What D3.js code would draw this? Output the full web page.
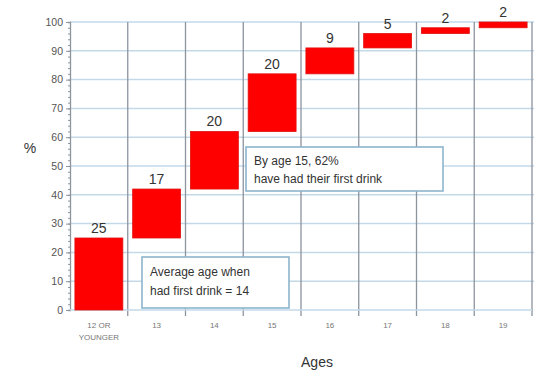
<!DOCTYPE html>
<html><head><meta charset="utf-8">
<script src="https://cdn.jsdelivr.net/npm/d3@7"></script>
<style>body{margin:0;background:#fff}svg{display:block}text{font-family:"Liberation Sans",Arial,sans-serif}</style>
</head><body>
<svg id="c" width="536" height="371"></svg>
<script>
const categories = ["12 OR YOUNGER","13","14","15","16","17","18","19"];
const values = [25,17,20,20,9,5,2,2];
const yTicks = [0,10,20,30,40,50,60,70,80,90,100];
const notes = [
  {lines:["By age 15, 62%","have had their first drink"]},
  {lines:["Average age when","had first drink = 14"]}
];

const svg = d3.select("#c");
const L=70, R=532, T=22, B=310;
const x = d3.scaleBand().domain(categories).range([L,R]).paddingInner(0.17).paddingOuter(0.085);
const xg = d3.scaleBand().domain(categories).range([L,R]);
const y = d3.scaleLinear().domain([0,100]).range([B,T]);

// cumulative
let acc=0;
const data = categories.map((c,i)=>{const s=acc; acc+=values[i]; return {c, v:values[i], s, e:acc};});

// horizontal grid
svg.append("g").selectAll("line").data(yTicks.slice(1)).join("line")
  .attr("x1",L).attr("x2",R+2).attr("y1",d=>y(d)).attr("y2",d=>y(d))
  .attr("stroke","#c3d9e8").attr("stroke-width",1.5);
// vertical grid
svg.append("g").selectAll("line").data(categories).join("line")
  .attr("x1",d=>xg(d)+xg.bandwidth()).attr("x2",d=>xg(d)+xg.bandwidth())
  .attr("y1",T).attr("y2",B+6)
  .attr("stroke","#8c949e").attr("stroke-width",1.3);

// y axis with minor ticks
const ya = svg.append("g").attr("transform",`translate(${L},0)`);
ya.call(d3.axisLeft(y).tickValues(d3.range(0,101,2)).tickSize(2).tickFormat(""));
ya.call(g=>g.select(".domain").attr("stroke","#8c949e").attr("stroke-width",1.3));
ya.selectAll(".tick line").attr("stroke","#8c949e");
const yb = svg.append("g").attr("transform",`translate(${L},0)`)
  .call(d3.axisLeft(y).tickValues(yTicks).tickSize(4).tickPadding(3));
yb.select(".domain").remove();
yb.selectAll(".tick line").attr("stroke","#8c949e");
yb.selectAll("text").attr("fill","#555").attr("font-size",10.5).style("font-family","Liberation Sans, Arial, sans-serif");

// x axis baseline
svg.append("line").attr("x1",L).attr("x2",R).attr("y1",B).attr("y2",B).attr("stroke","#c3d9e8").attr("stroke-width",1.5);

// x labels
const xl = svg.append("g").selectAll("text").data(categories).join("text")
  .attr("x",d=>xg(d)+xg.bandwidth()/2).attr("y",328)
  .attr("text-anchor","middle").attr("fill","#777").attr("font-size",8);
xl.each(function(d){
  const parts = d==="12 OR YOUNGER" ? ["12 OR","YOUNGER"] : [d];
  d3.select(this).selectAll("tspan").data(parts).join("tspan")
    .attr("x",xg(d)+xg.bandwidth()/2).attr("dy",(p,i)=>i?12:0).text(p=>p);
});

// bars
svg.append("g").selectAll("rect").data(data).join("rect")
  .attr("x",d=>x(d.c)).attr("width",x.bandwidth())
  .attr("y",d=>y(d.e)).attr("height",d=>y(d.s)-y(d.e))
  .attr("fill","#ff0000").attr("stroke","#e21010").attr("stroke-width",0.8);

// value labels
svg.append("g").selectAll("text").data(data).join("text")
  .attr("x",d=>x(d.c)+x.bandwidth()/2).attr("y",d=>y(d.e)-5)
  .attr("text-anchor","middle").attr("fill","#333").attr("font-size",14).text(d=>d.v);

// annotation boxes
const boxes=[{x:246,y:147,w:197,h:44},{x:142,y:257,w:147,h:51}];
notes.forEach((n,i)=>{
  const b=boxes[i];
  svg.append("rect").attr("x",b.x).attr("y",b.y).attr("width",b.w).attr("height",b.h)
    .attr("fill","#fff").attr("stroke","#8db4cc").attr("stroke-width",1.6);
  svg.append("text").attr("fill","#333").attr("font-size",12)
    .selectAll("tspan").data(n.lines).join("tspan")
    .attr("x",b.x+8).attr("y",(l,j)=>b.y+(i?19:18)+j*(i?19:18)).text(l=>l);
});

// axis titles
svg.append("text").attr("x",30).attr("y",153).attr("text-anchor","middle").attr("fill","#333").attr("font-size",14).text("%");
svg.append("text").attr("x",317).attr("y",367).attr("text-anchor","middle").attr("fill","#333").attr("font-size",14).text("Ages");
</script>
</body></html>
